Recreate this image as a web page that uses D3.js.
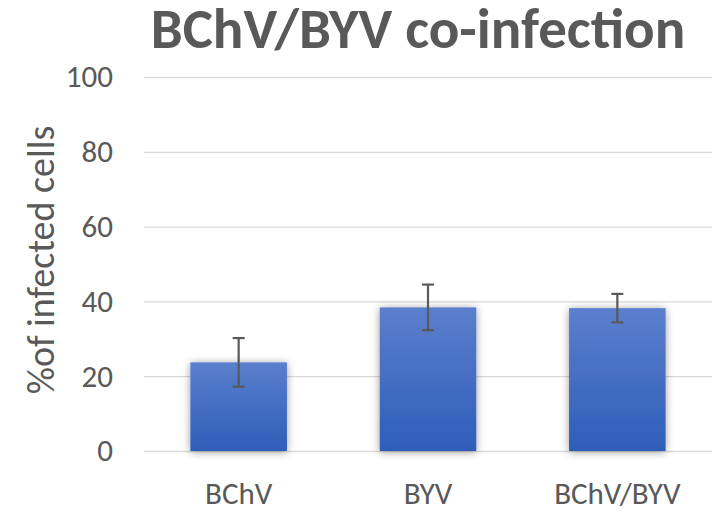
<!DOCTYPE html>
<html>
<head>
<meta charset="utf-8">
<script src="https://cdn.jsdelivr.net/npm/d3@7"></script>
<style>
  html, body { margin: 0; padding: 0; background: #fff; }
  svg { display: block; font-family: Carlito, "Open Sans", "Liberation Sans", sans-serif; }
</style>
</head>
<body>
<svg id="chart" width="725" height="512"></svg>
<script>
// Percentage of infected cells per infection type, with error bars
const categories = ["BChV", "BYV", "BChV/BYV"];
const values = [23.7, 38.4, 38.2];
const errors = [6.5, 6.1, 3.8];
const yTicks = [0, 20, 40, 60, 80, 100];

const svg = d3.select("#chart");
const margin = { left: 144, right: 13, top: 77, bottom: 61 };
const W = 725, H = 512;
const FONT = "Carlito, 'Open Sans', 'Liberation Sans', sans-serif";

const x = d3.scaleBand()
  .domain(categories)
  .range([margin.left, W - margin.right])
  .paddingInner(0.49)
  .paddingOuter(0.245);

const y = d3.scaleLinear().domain([0, 100]).range([H - margin.bottom, margin.top]);

const defs = svg.append("defs");
const grad = defs.append("linearGradient")
  .attr("id", "barGrad").attr("x1", 0).attr("y1", 0).attr("x2", 0).attr("y2", 1);
grad.append("stop").attr("offset", "0%").attr("stop-color", "#5b7fcd");
grad.append("stop").attr("offset", "100%").attr("stop-color", "#2e5db8");

const shadow = defs.append("filter").attr("id", "shadow")
  .attr("x", "-20%").attr("y", "-20%").attr("width", "140%").attr("height", "140%");
shadow.append("feGaussianBlur").attr("in", "SourceAlpha").attr("stdDeviation", 4).attr("result", "b");
shadow.append("feOffset").attr("in", "b").attr("dx", 0).attr("dy", 1).attr("result", "o");
shadow.append("feComponentTransfer").attr("in", "o").attr("result", "s")
  .append("feFuncA").attr("type", "linear").attr("slope", 0.4);
const merge = shadow.append("feMerge");
merge.append("feMergeNode").attr("in", "s");
merge.append("feMergeNode").attr("in", "SourceGraphic");

// Title
svg.append("text")
  .attr("x", 418).attr("y", 48)
  .attr("text-anchor", "middle")
  .attr("font-size", 57).attr("font-weight", "bold")
  .attr("fill", "#595959")
  .text("BChV/BYV co-infection");

// Gridlines
const grid = d3.axisLeft(y).tickValues(yTicks).tickSize(-(W - margin.left - margin.right)).tickFormat("");
svg.append("g")
  .attr("transform", `translate(${margin.left},0)`)
  .call(grid)
  .call(g => g.select(".domain").remove())
  .call(g => g.selectAll("line").attr("stroke", "#d9d9d9").attr("stroke-width", 1.3));

// Y tick labels
const yAxis = d3.axisLeft(y).tickValues(yTicks).tickSize(0).tickPadding(31).tickFormat(d3.format("d"));
svg.append("g")
  .attr("transform", `translate(${margin.left},0)`)
  .call(yAxis)
  .call(g => g.select(".domain").remove())
  .call(g => g.selectAll("text")
    .attr("font-size", 31).attr("fill", "#595959")
    .attr("font-family", FONT));

// Y axis title
svg.append("text")
  .attr("transform", `translate(54,260) rotate(-90)`)
  .attr("text-anchor", "middle")
  .attr("font-size", 38).attr("fill", "#595959")
  .text("%of infected cells");

// Bars
svg.append("g").selectAll("rect")
  .data(categories)
  .join("rect")
  .attr("x", d => x(d))
  .attr("width", x.bandwidth())
  .attr("y", (d, i) => y(values[i]))
  .attr("height", (d, i) => y(0) - y(values[i]))
  .attr("fill", "url(#barGrad)")
  .attr("filter", "url(#shadow)");

// Error bars
const eb = svg.append("g").attr("stroke", "#595959").attr("stroke-width", 2.2);
categories.forEach((c, i) => {
  const cx = x(c) + x.bandwidth() / 2;
  const top = y(values[i] + errors[i]);
  const bot = y(values[i] - errors[i]);
  eb.append("line").attr("x1", cx).attr("x2", cx).attr("y1", top).attr("y2", bot);
  eb.append("line").attr("x1", cx - 6).attr("x2", cx + 6).attr("y1", top).attr("y2", top);
  eb.append("line").attr("x1", cx - 6).attr("x2", cx + 6).attr("y1", bot).attr("y2", bot);
});

// X category labels
const xAxis = d3.axisBottom(x).tickSize(0).tickPadding(31);
svg.append("g")
  .attr("transform", `translate(0,${y(0)})`)
  .call(xAxis)
  .call(g => g.select(".domain").remove())
  .call(g => g.selectAll("text")
    .attr("font-size", 31).attr("fill", "#595959")
    .attr("font-family", FONT));
</script>
</body>
</html>
